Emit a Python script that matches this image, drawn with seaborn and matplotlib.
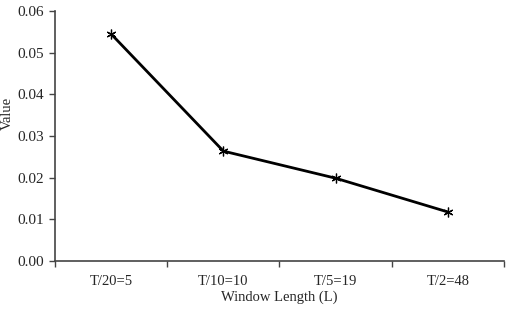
import matplotlib
matplotlib.use("Agg")
import matplotlib.pyplot as plt
import seaborn as sns
import pandas as pd
from matplotlib.ticker import FixedLocator

categories = ["T/20=5", "T/10=10", "T/5=19", "T/2=48"]
values = [0.0545, 0.0264, 0.0199, 0.0118]
yticks = [0.00, 0.01, 0.02, 0.03, 0.04, 0.05, 0.06]

sns.set_style("white")
plt.rcParams['font.family'] = ['Liberation Serif', 'DejaVu Serif']

df = pd.DataFrame({"pos": range(len(categories)), "value": values})

fig = plt.figure(figsize=(5.10, 3.09), dpi=100)
ax = fig.add_axes([0.108, 0.155, 0.880, 0.809])
sns.lineplot(data=df, x="pos", y="value", ax=ax, color="black", linewidth=2,
             marker=(6, 2, 0), markersize=7, markeredgewidth=0.9,
             markeredgecolor="black", sort=False)

ax.set_xlim(-0.5, len(categories) - 0.5)
ax.set_ylim(0, 0.06)
ax.set_yticks(yticks)
ax.set_yticklabels([f"{t:.2f}" for t in yticks], fontsize=11)
ax.set_xticks(range(len(categories)))
ax.set_xticklabels(categories, fontsize=10.5)
ax.xaxis.set_minor_locator(FixedLocator([i - 0.5 for i in range(len(categories) + 1)]))
ax.tick_params(axis='x', which='major', length=0, pad=10)
ax.tick_params(axis='x', which='minor', length=4, width=1, color="#444444", direction='out', bottom=True)
ax.tick_params(axis='y', length=4, width=1, color="#444444", direction='out', left=True, pad=4)

for s in ["top", "right"]:
    ax.spines[s].set_visible(False)
for s in ["left", "bottom"]:
    ax.spines[s].set_color("#444444")
    ax.spines[s].set_linewidth(1.2)

ax.set_xlabel("Window Length (L)", fontsize=10.5, labelpad=2)
ax.set_ylabel("Value", fontsize=10.5)
ax.yaxis.set_label_coords(-0.093, 0.59)

fig.savefig("out.png", dpi=100)
